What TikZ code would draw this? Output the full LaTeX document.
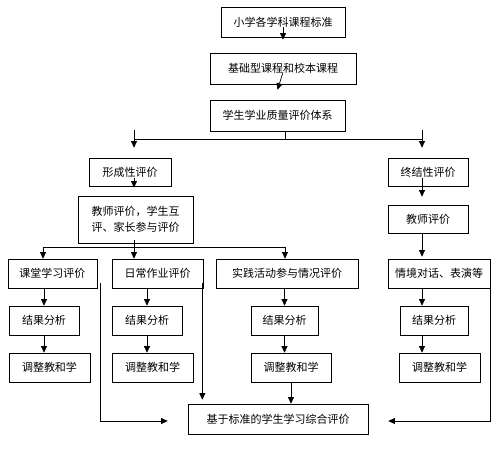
\documentclass[tikz,border=0pt]{standalone}
\usepackage{fontspec}
\usetikzlibrary{arrows.meta}
\newfontfamily\cjk{Noto Sans CJK SC}

\begin{document}
\begin{tikzpicture}[
    x=1pt, y=-1pt,
    box/.style={rectangle, draw, line width=0.7pt, inner sep=0pt,
                font=\cjk\fontsize{11}{16}\selectfont,
                minimum height=29pt},
    arr/.style={-{Triangle[length=6.5pt,width=6pt]}, line width=0.7pt},
    line/.style={line width=0.7pt}
]
\useasboundingbox (0,0) rectangle (501,455);
\node[box, minimum width=124pt, minimum height=30pt] (std) at (283,22) {小学各学科课程标准};
\node[box, minimum width=146pt, minimum height=31pt] (base) at (283,68.5) {基础型课程和校本课程};
\node[box, minimum width=135pt, minimum height=31pt] (sys) at (277.5,115.5) {学生学业质量评价体系};
\node[box, minimum width=82pt, minimum height=28pt] (form) at (130,172) {形成性评价};
\node[box, minimum width=80pt, minimum height=28pt] (fin) at (428,172) {终结性评价};
\node[box, minimum width=115pt, minimum height=47pt, align=left] (who) at (135.5,219.5) {教师评价，学生互\\评、家长参与评价};
\node[box, minimum width=80pt, minimum height=28pt] (tch) at (428,219) {教师评价};
\node[box, minimum width=89pt] (cls) at (52.5,273.5) {课堂学习评价};
\node[box, minimum width=91pt] (hw) at (157.5,273.5) {日常作业评价};
\node[box, minimum width=142pt] (prac) at (287,273.5) {实践活动参与情况评价};
\node[box, minimum width=102pt] (sit) at (439,273.5) {情境对话、表演等};
\node[box, minimum width=70pt] (r1) at (44,320.5) {结果分析};
\node[box, minimum width=70pt] (r2) at (147,320.5) {结果分析};
\node[box, minimum width=67pt] (r3) at (284.5,320.5) {结果分析};
\node[box, minimum width=68pt] (r4) at (434,320.5) {结果分析};
\node[box, minimum width=81pt] (a1) at (49.5,367.5) {调整教和学};
\node[box, minimum width=81pt] (a2) at (152.5,367.5) {调整教和学};
\node[box, minimum width=80pt] (a3) at (291,367.5) {调整教和学};
\node[box, minimum width=81pt] (a4) at (439.5,367.5) {调整教和学};
\node[box, minimum width=180pt, minimum height=30pt] (sum) at (278,419) {基于标准的学生学习综合评价};
\coordinate (split) at (285,139);
\coordinate (split2) at (285,247);
\draw[arr] ([yshift=10pt]std.south) -- ([yshift=13pt]base.north);
\draw[arr] ([yshift=12pt]base.south) -- ([yshift=10pt]sys.north);
\draw[line] (sys.south -| split) -- (split);
\draw[line] ([xshift=4pt]form.north |- split) -- ([xshift=-6pt]fin.north |- split);
\draw[arr] ([xshift=4pt,yshift=28pt]form.north) -- ([xshift=4pt,yshift=10pt]form.north);
\draw[arr] ([xshift=-6pt,yshift=28pt]fin.north) -- ([xshift=-6pt,yshift=10pt]fin.north);
\draw[arr] ([xshift=4pt,yshift=8pt]form.south) -- ([xshift=-1.5pt,yshift=8pt]who.north);
\draw[arr] ([xshift=-6pt,yshift=8pt]fin.south) -- ([xshift=-6pt,yshift=8pt]tch.north);
\draw[arr] ([xshift=-6pt]tch.south) -- ([xshift=-6pt,yshift=2pt]tch.south |- sit.north);
\draw[line] ([xshift=-9.5pt]cls.north |- split2) -- (split2);
\draw[arr] ([xshift=-1.5pt,yshift=3pt]who.south) -- ([xshift=-23.5pt]hw.north);
\draw[arr] ([xshift=-9.5pt]cls.north |- split2) -- ([xshift=-9.5pt]cls.north);
\draw[arr] (split2) -- (split2 |- prac.north);
\draw[arr] (r1.north |- cls.south) -- (r1.north);
\draw[arr] (r1.south) -- (r1.south |- a1.north);
\draw[arr] (r2.north |- hw.south) -- (r2.north);
\draw[arr] (r2.south) -- (r2.south |- a2.north);
\draw[arr] (r3.north |- prac.south) -- (r3.north);
\draw[arr] (r3.south) -- (r3.south |- a3.north);
\draw[arr] ([xshift=-12pt]r4.north |- sit.south) -- ([xshift=-12pt]r4.north);
\draw[arr] ([xshift=-12pt]r4.south) -- ([xshift=-12pt]r4.south |- a4.north);
\draw[arr] (a3.south) -- (a3.south |- sum.north);
\draw[arr] ([xshift=3pt,yshift=5pt]cls.south east) |- ([xshift=-20pt,yshift=-2pt]sum.west);
\draw[arr] ([xshift=-1pt,yshift=5pt]hw.south east) -- ([xshift=-1pt,yshift=4pt]hw.south east |- sum.north);
\draw[arr] ([yshift=5pt]sit.south east) |- ([xshift=20pt,yshift=-2pt]sum.east);
\end{tikzpicture}
\end{document}
